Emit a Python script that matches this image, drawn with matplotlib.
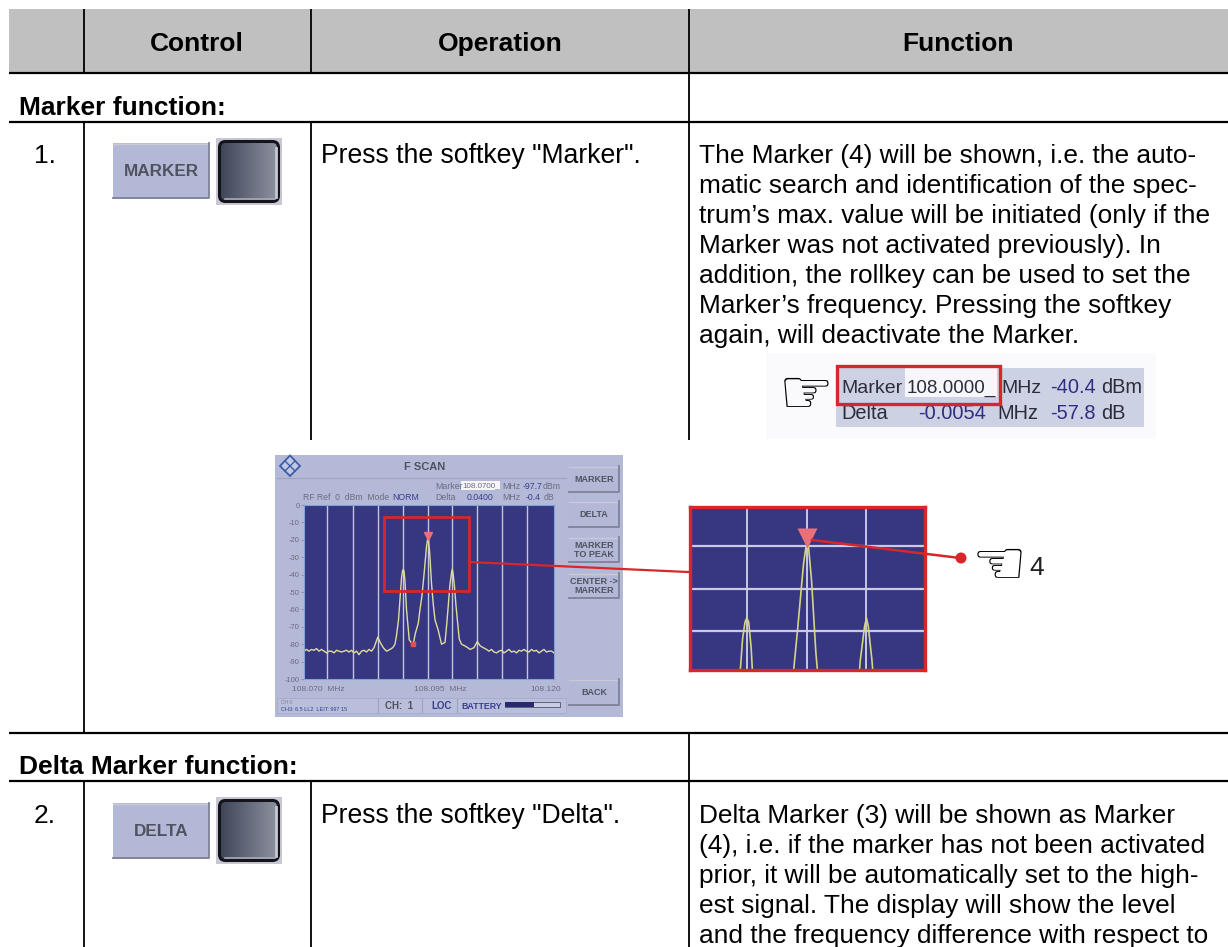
import numpy as np
from matplotlib import pyplot as plt
from matplotlib.colors import LinearSegmentedColormap
from matplotlib.patches import Rectangle, FancyBboxPatch, Polygon, Circle

W, H = 1228, 947
plt.rcParams['font.family'] = ['Liberation Sans', 'DejaVu Sans']

headers = ["Control", "Operation", "Function"]
section1 = "Marker function:"
section2 = "Delta Marker function:"
op1 = 'Press the softkey "Marker".'
op2 = 'Press the softkey "Delta".'
func1 = ["The Marker (4) will be shown, i.e. the auto-",
         "matic search and identification of the spec-",
         "trum\u2019s max. value will be initiated (only if the",
         "Marker was not activated previously). In",
         "addition, the rollkey can be used to set the",
         "Marker\u2019s frequency. Pressing the softkey",
         "again, will deactivate the Marker."]
func2 = ["Delta Marker (3) will be shown as Marker",
         "(4), i.e. if the marker has not been activated",
         "prior, it will be automatically set to the high-",
         "est signal. The display will show the level",
         "and the frequency difference with respect to"]

# spectrum trace, x in grid divisions
trace_div = [0, .1, .2, .3, .4, .5, .6, .7, .8, .9, 1, 1.1, 1.2, 1.3, 1.4, 1.5, 1.6, 1.7, 1.8, 1.9,
             2, 2.1, 2.2, 2.3, 2.4, 2.5, 2.6, 2.7, 2.8, 2.95, 3.05, 3.17, 3.3, 3.44, 3.55, 3.64, 3.7,
             3.78, 3.84, 3.9, 3.94, 3.97, 4.0, 4.04, 4.1, 4.21, 4.29, 4.37, 4.45, 4.57, 4.64, 4.72,
             4.8, 4.85, 4.9, 4.94, 4.96, 4.98, 5.03, 5.1, 5.17, 5.24, 5.37, 5.5, 5.64, 5.7, 5.77,
             5.83, 5.9, 5.93, 5.96, 6.02, 6.08, 6.21, 6.3, 6.44, 6.55, 6.64, 6.8, 6.93, 7.05, 7.17,
             7.3, 7.4, 7.5, 7.6, 7.7, 7.8, 7.9, 8, 8.1, 8.2, 8.3, 8.4, 8.5, 8.6, 8.7, 8.8, 8.9, 9,
             9.1, 9.2, 9.3, 9.4, 9.5, 9.6, 9.7, 9.8, 9.9, 10]
trace_db = [-84, -83, -84, -83, -83.5, -82.5, -84, -83, -84, -85, -84, -84, -85, -83.5, -84, -84.5,
            -84, -83.5, -84.5, -83.5, -85, -84, -86, -84, -83.5, -84.5, -83, -84, -82, -76, -79, -82,
            -84, -83, -82, -80, -75, -66, -54, -42, -38, -37, -38, -44, -60, -77.5, -79, -80, -74,
            -68, -60, -52, -40, -32, -24, -20, -19, -20, -28, -45, -57, -66, -72, -80, -79, -70,
            -58, -47, -39, -37, -39, -47, -58, -77, -80, -81, -82, -83, -82, -78.5, -81, -82, -83,
            -84, -83, -84.5, -85, -84, -83.5, -85, -84, -83, -84.5, -84, -85, -83.5, -84, -83, -84,
            -84.5, -83, -84, -83.5, -85, -84, -83, -84.5, -84, -84, -85]
grid_div = [.93, 1.97, 2.95, 3.97, 4.96, 5.93, 6.93, 7.93, 8.93]
db_ticks = [0, -10, -20, -30, -40, -50, -60, -70, -80, -90, -100]
panel_grid_div = [3.97, 4.96, 5.93]
panel_grid_db = [-20, -30, -40]
softkeys = ["MARKER", "DELTA", "MARKER\nTO PEAK", "CENTER ->\nMARKER", "BACK"]
softkey_y = [(466, 493), (501, 528), (537, 563), (573, 599), (679, 706)]

RED = '#d9262a'
NAVY = '#373681'
LILAC = '#b4b9d8'
TRACE = '#dedd9c'
cm_knob = LinearSegmentedColormap.from_list('k', ['#3f4659', '#8f93a1'])


def px_axes(x0, y0, x1, y1):
    return fig.add_axes([x0 / W, 1 - y1 / H, (x1 - x0) / W, (y1 - y0) / H])


def softkey(ax, x0, y0, x1, y1, label, size, bold=True):
    ax.add_patch(Rectangle((x0, y0), x1 - x0, y1 - y0, fc='#b3b8d6', ec='none'))
    ax.plot([x0, x1], [y0 + .5, y0 + .5], color='#c9cad3', lw=1)
    ax.plot([x0, x1, x1], [y1 - .7, y1 - .7, y0], color='#7e8299', lw=1.3)
    ax.text((x0 + x1) / 2, (y0 + y1) / 2, label, ha='center', va='center', fontsize=size,
            color='#50535f', fontweight='bold' if bold else 'normal', linespacing=1.1)


def knob(ax, x0, y0, x1, y1):
    ax.add_patch(Rectangle((x0, y0), x1 - x0, y1 - y0, fc='#c9c7d2', ec='none'))
    grad = np.linspace(0, 1, 60).reshape(1, -1)
    im = ax.imshow(grad, extent=(x0 + 3.5, x1 - 3.5, y1 - 3.5, y0 + 3.5), cmap=cm_knob, aspect='auto', zorder=2)
    box = FancyBboxPatch((x0 + 3.5, y0 + 3.5), x1 - x0 - 7, y1 - y0 - 7, boxstyle='round,pad=0,rounding_size=6',
                         fc='none', ec='#14151c', lw=2.2, zorder=3)
    ax.add_patch(box)
    im.set_clip_path(box)
    ax.plot([x1 - 6.5, x1 - 6.5], [y0 + 10, y1 - 8], color='#c6c9d0', lw=2, zorder=3)
    ax.plot([x0 + 9, x1 - 7], [y1 - 6, y1 - 6], color='#a7abb5', lw=1.2, zorder=3)


fig = plt.figure(figsize=(W / 100, H / 100), dpi=100)
ax = fig.add_axes([0, 0, 1, 1])
ax.set_xlim(0, W)
ax.set_ylim(H, 0)
ax.axis('off')

# table frame
ax.add_patch(Rectangle((9, 9), W - 9, 63, fc='#c0c0c0', ec='none'))
for y in [72.5, 122, 733, 781]:
    ax.plot([9, W], [y, y], color='black', lw=1.6, solid_capstyle='butt')
for x, y0, y1 in [(84, 9, 72), (84, 122, 733), (84, 781, H),
                  (311, 9, 72), (311, 122, 440), (311, 781, H),
                  (689, 9, 440), (689, 733, H)]:
    ax.plot([x, x], [y0, y1], color='black', lw=1.3, solid_capstyle='butt')

# text
for name, x in zip(headers, [197, 500, 958]):
    ax.text(x, 51, name, ha='center', va='baseline', fontsize=19, fontweight='bold')
ax.text(19, 115, section1, va='baseline', fontsize=19, fontweight='bold')
ax.text(19, 774, section2, va='baseline', fontsize=19, fontweight='bold')
ax.text(56, 163, "1.", ha='right', va='baseline', fontsize=19)
ax.text(56, 823, "2.", ha='right', va='baseline', fontsize=19)
ax.text(321, 163, op1, va='baseline', fontsize=19.2)
ax.text(321, 823, op2, va='baseline', fontsize=19.2)
for i, line in enumerate(func1):
    ax.text(699, 163 + 30 * i, line, va='baseline', fontsize=18.9)
for i, line in enumerate(func2):
    ax.text(699, 823 + 30 * i, line, va='baseline', fontsize=18.9)

# control icons
softkey(ax, 113, 143, 209, 199, "MARKER", 12.3)
softkey(ax, 113, 803, 209, 859, "DELTA", 12.3)
knob(ax, 216, 138, 282, 205)
knob(ax, 216, 797, 282, 864)
ax.set_xlim(0, W)
ax.set_ylim(H, 0)

# marker readout
ax.add_patch(Rectangle((766, 353), 390, 86, fc='#fafafc', ec='none'))
ax.add_patch(Rectangle((836, 368), 308, 59, fc='#cdd1e4', ec='none'))
ax.add_patch(Rectangle((905, 368), 92, 29, fc='#f7f7fb', ec='none'))
ax.text(841, 393, "Marker", va='baseline', fontsize=14, color='#2c2d3a')
ax.text(907, 393, "108.0000_", va='baseline', fontsize=13.6, color='#2c2d3a')
ax.text(1001, 393, "MHz", va='baseline', fontsize=14, color='#2c2d3a')
ax.text(1050, 393, "-40.4", va='baseline', fontsize=14.4, color='#2e2f80')
ax.text(1101, 393, "dBm", va='baseline', fontsize=14.4, color='#2c2d3a')
ax.text(841, 419, "Delta", va='baseline', fontsize=14.4, color='#2c2d3a')
ax.text(918, 419, "-0.0054", va='baseline', fontsize=14.4, color='#2e2f80')
ax.text(997, 419, "MHz", va='baseline', fontsize=14.4, color='#2c2d3a')
ax.text(1050, 419, "-57.8", va='baseline', fontsize=14.4, color='#2e2f80')
ax.text(1101, 419, "dB", va='baseline', fontsize=14.4, color='#2c2d3a')
ax.add_patch(Rectangle((837, 366), 163, 38, fc='none', ec=RED, lw=2.4, zorder=4))
ax.text(806, 396, "\u261E", ha='center', va='center', fontsize=44, family='DejaVu Sans', color='black')

# screen shot
ax.add_patch(Rectangle((275, 455), 348, 262, fc=LILAC, ec='none'))
ax.plot([277, 566], [477.5, 477.5], color='#9ea3c2', lw=.8)
ax.add_patch(Polygon([(290, 455.5), (300, 466), (290, 476), (280, 466)], fc='#c3c8e2', ec='#3c5da8', lw=1.3))
ax.plot([285, 295], [461, 471], color='#3c5da8', lw=1)
ax.plot([285, 295], [471, 461], color='#3c5da8', lw=1)
ax.text(425, 467, "F SCAN", ha='center', va='center', fontsize=8, fontweight='bold', color='#50535f')
ax.text(435, 486, "Marker", va='center', fontsize=6.3, color='#6a6d80')
ax.add_patch(Rectangle((461, 481), 39, 9, fc='#f5f5fa', ec='none'))
ax.text(462, 486, "108.0700_", va='center', fontsize=5.8, color='#6a6d80')
ax.text(502, 486, "MHz", va='center', fontsize=6.3, color='#6a6d80')
ax.text(523, 486, "-97.7", va='center', fontsize=6.3, color='#3a3d90')
ax.text(543, 486, "dBm", va='center', fontsize=6.3, color='#6a6d80')
ax.text(435, 497, "Delta", va='center', fontsize=6.3, color='#6a6d80')
ax.text(467, 497, "0.0400", va='center', fontsize=6.3, color='#3a3d90')
ax.text(502, 497, "MHz", va='center', fontsize=6.3, color='#6a6d80')
ax.text(526, 497, "-0.4", va='center', fontsize=6.3, color='#3a3d90')
ax.text(544, 497, "dB", va='center', fontsize=6.3, color='#6a6d80')
ax.text(303, 497, "RF Ref  0  dBm  Mode", va='center', fontsize=6.2, color='#6a6d80')
ax.text(392, 497, "NORM", va='center', fontsize=6.3, color='#3a3d90')
ax.text(292, 689, "108.070  MHz", va='center', fontsize=6, color='#6a6d80')
ax.text(440, 689, "108.095  MHz", ha='center', va='center', fontsize=6, color='#6a6d80')
ax.text(561, 689, "108.120", ha='right', va='center', fontsize=6, color='#6a6d80')
for (y0, y1), label in zip(softkey_y, softkeys):
    softkey(ax, 569, y0, 619, y1, label, 6.5)
# status bar
ax.add_patch(Rectangle((277, 698), 289, 15, fc='#b9bedb', ec='#a7abc9', lw=.6))
for x in [378, 422, 457]:
    ax.plot([x, x], [699, 712], color='#9ea3c2', lw=.8)
ax.text(281, 702, "CH 0", va='center', fontsize=3.5, color='#7b7e93')
ax.text(281, 709, "CH3: 6.5 LL2  LEIT: 997 15", va='center', fontsize=4, color='#3a3d90')
ax.text(385, 706, "CH:  1", va='center', fontsize=7, color='#50535f', fontweight='bold')
ax.text(431, 706, "LOC", va='center', fontsize=7, color='#3a3d90', fontweight='bold')
ax.text(461, 706, "BATTERY", va='center', fontsize=6.3, color='#3a3d90', fontweight='bold')
ax.add_patch(Rectangle((505, 702), 55, 5, fc='#c9cce2', ec='#50535f', lw=.6))
ax.add_patch(Rectangle((505, 702), 29, 5, fc='#272870', ec='none'))

# small spectrum on the screen
sp = px_axes(304, 505, 554, 679)
sp.set_facecolor(NAVY)
sp.set_xlim(0, 10)
sp.set_ylim(-100, 0)
for d in grid_div:
    sp.axvline(d, color='#c4c6de', lw=1)
sp.plot(trace_div, trace_db, color=TRACE, lw=1)
sp.plot([4.96], [-18], marker='v', ms=6, color='#e8707a')
sp.plot([4.37], [-80], marker='s', ms=3.5, color='#e05050')
sp.set_yticks(db_ticks)
sp.set_yticklabels([str(v) for v in db_ticks], fontsize=5.5, color='#6a6d80')
sp.set_xticks([])
sp.tick_params(axis='y', length=2, width=.6, pad=1, color='#8a8ea8')
for s in sp.spines.values():
    s.set_color('#7fa2d8')
    s.set_linewidth(.8)

# enlarged panel, same trace
zm = px_axes(689.5, 507, 925, 670)
zm.set_facecolor(NAVY)
zm.set_xlim(3.03, 6.89)
zm.set_ylim(-49.4, -10.6)
for d in panel_grid_div:
    zm.axvline(d, color='#dfe1f0', lw=1.2)
for v in panel_grid_db:
    zm.axhline(v, color='#c9cbe2', lw=1.6)
zm.plot(trace_div, trace_db, color='#d4d484', lw=1.2)
zm.plot([4.96], [-18], marker='v', ms=14, color='#e8707a', mec='none')
zm.set_xticks([])
zm.set_yticks([])
for s in zm.spines.values():
    s.set_color(RED)
    s.set_linewidth(2.4)

# callouts on top of everything
top = fig.add_axes([0, 0, 1, 1], zorder=5)
top.set_xlim(0, W)
top.set_ylim(H, 0)
top.axis('off')
top.add_patch(Rectangle((384, 517), 85, 74, fc='none', ec=RED, lw=2))
top.plot([469, 688], [562, 572], color=RED, lw=1.6)
top.plot([812, 960], [540, 558], color=RED, lw=1.8)
top.add_patch(Circle((961, 558), 5.5, fc=RED, ec='none'))
top.text(999, 567, "\u261C", ha='center', va='center', fontsize=44, family='DejaVu Sans', color='black')
top.text(1029, 575, "4", va='baseline', fontsize=19, color='#222222')

fig.savefig('out.png', dpi=100)
